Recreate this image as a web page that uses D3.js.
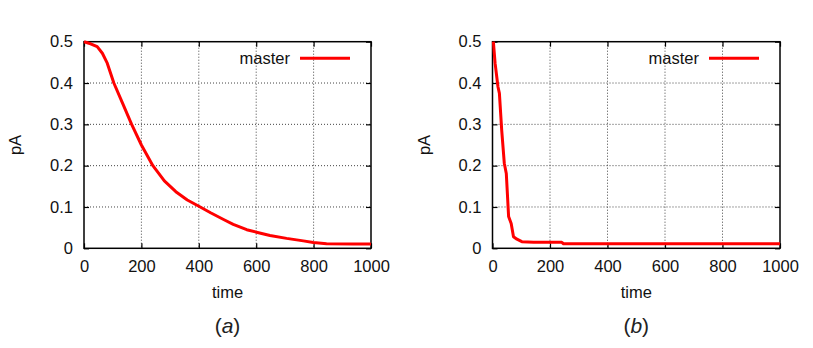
<!DOCTYPE html>
<html>
<head>
<meta charset="utf-8">
<script src="https://cdn.jsdelivr.net/npm/d3@7"></script>
<style>
  body { margin: 0; background: #fff; }
  svg text { font-family: "Liberation Sans", Arial, sans-serif; }
  .grid line { stroke: #444; stroke-width: 1; stroke-dasharray: 1,2; }
</style>
</head>
<body>
<svg id="chart" width="813" height="348"></svg>
<script>
// values
const timeA = [0, 23, 46, 64, 81, 104, 135, 166, 200, 240, 280, 320, 360, 405, 441, 488, 520, 567, 601, 648, 706, 764, 799, 845, 938, 1000];
const pAa   = [0.5, 0.495, 0.488, 0.472, 0.448, 0.4, 0.35, 0.3, 0.25, 0.2, 0.163, 0.137, 0.117, 0.1, 0.086, 0.069, 0.058, 0.045, 0.039, 0.031, 0.024, 0.018, 0.014, 0.0113, 0.0104, 0.0104];

const timeB = [3, 9, 19, 24, 32, 41, 48, 56, 65, 73, 85, 102, 143, 241, 247, 1000];
const pAb   = [0.5, 0.448, 0.391, 0.375, 0.286, 0.206, 0.181, 0.077, 0.060, 0.028, 0.022, 0.016, 0.0145, 0.0145, 0.011, 0.011];

const xTicks = [0, 200, 400, 600, 800, 1000];
const yTicks = [0, 0.1, 0.2, 0.3, 0.4, 0.5];
const seriesName = 'master';
const captions = ['a', 'b'];

const svg = d3.select('#chart');

const panels = [
    { left: 84, right: 371, time: timeA, pA: pAa, caption: captions[0] },
    { left: 492.5, right: 780, time: timeB, pA: pAb, caption: captions[1] }
];
const plotTop = 41.7, plotBottom = 248.3;

panels.forEach(p => drawPanel(p));

function drawPanel(p) {
    const x = d3.scaleLinear().domain([0, 1000]).range([p.left, p.right]);
    const y = d3.scaleLinear().domain([0, 0.5]).range([plotBottom, plotTop]);
    const g = svg.append('g');

    // dotted grid
    const grid = g.append('g').attr('class', 'grid');
    grid.selectAll('.gx').data(xTicks.slice(1, -1)).join('line')
        .attr('x1', d => x(d)).attr('x2', d => x(d))
        .attr('y1', plotTop).attr('y2', plotBottom);
    grid.selectAll('.gy').data(yTicks.slice(1, -1)).join('line')
        .attr('x1', p.left).attr('x2', p.right)
        .attr('y1', d => y(d)).attr('y2', d => y(d));

    // axes, ticks pointing inward on all four sides
    g.append('g').attr('transform', `translate(0,${plotBottom})`)
        .call(d3.axisBottom(x).tickValues(xTicks).tickSize(-5).tickPadding(12).tickFormat(d3.format('d')));
    g.append('g').attr('transform', `translate(0,${plotTop})`)
        .call(d3.axisTop(x).tickValues(xTicks).tickSize(-5).tickFormat(''));
    g.append('g').attr('transform', `translate(${p.left},0)`)
        .call(d3.axisLeft(y).tickValues(yTicks).tickSize(-5).tickPadding(11)
            .tickFormat(d => d === 0 ? '0' : d3.format('.1f')(d)));
    g.append('g').attr('transform', `translate(${p.right},0)`)
        .call(d3.axisRight(y).tickValues(yTicks).tickSize(-5).tickFormat(''));

    g.selectAll('.domain').remove();
    g.selectAll('.tick line').attr('stroke', '#000').attr('stroke-width', 1.2);
    g.selectAll('.tick text').attr('font-size', 16.5).attr('fill', '#111')
        .attr('font-family', '"Liberation Sans", Arial, sans-serif');

    g.append('rect')
        .attr('x', p.left).attr('y', plotTop)
        .attr('width', p.right - p.left).attr('height', plotBottom - plotTop)
        .attr('fill', 'none').attr('stroke', '#000').attr('stroke-width', 1.5);

    // data line
    const line = d3.line().x(d => x(d[0])).y(d => y(d[1]));
    g.append('path')
        .datum(p.time.map((t, i) => [t, p.pA[i]]))
        .attr('d', line)
        .attr('fill', 'none').attr('stroke', '#f00')
        .attr('stroke-width', 3).attr('stroke-linejoin', 'round');

    // legend
    const lx = p.right - 71;
    g.append('line')
        .attr('x1', lx).attr('x2', lx + 50)
        .attr('y1', 58.3).attr('y2', 58.3)
        .attr('stroke', '#f00').attr('stroke-width', 3);
    g.append('text')
        .attr('x', lx - 10).attr('y', 58.3).attr('dy', '0.35em')
        .attr('text-anchor', 'end').attr('font-size', 16.5).attr('fill', '#111')
        .text(seriesName);

    // axis labels
    const cx = (p.left + p.right) / 2;
    g.append('text')
        .attr('x', cx).attr('y', 298)
        .attr('text-anchor', 'middle').attr('font-size', 16.5).attr('fill', '#111')
        .text('time');
    g.append('text')
        .attr('transform', `translate(${p.left - 63},${(plotTop + plotBottom) / 2}) rotate(-90)`)
        .attr('text-anchor', 'middle').attr('font-size', 16.5).attr('fill', '#111')
        .text('pA');

    // caption: upright parentheses, italic letter
    const cap = g.append('text')
        .attr('x', cx).attr('y', 333)
        .attr('text-anchor', 'middle')
        .attr('font-family', '"Liberation Serif", "DejaVu Serif", serif')
        .attr('font-size', 21).attr('fill', '#222');
    cap.append('tspan').text('(');
    cap.append('tspan').attr('font-style', 'italic').text(p.caption);
    cap.append('tspan').text(')');
}
</script>
</body>
</html>
